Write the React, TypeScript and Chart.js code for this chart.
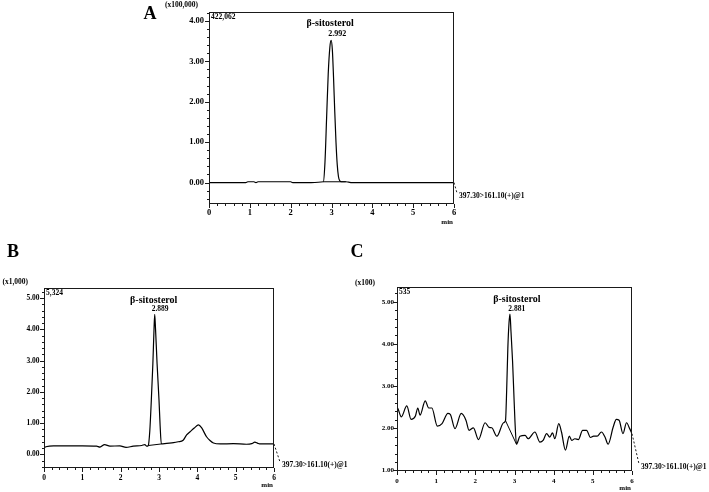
import React, { useEffect, useRef } from 'react';
import { Chart, registerables } from 'chart.js';

Chart.register(...registerables);

const FONT = "'Liberation Serif', 'Times New Roman', Times, serif";

// ---------- Panel A data (x100,000) ----------
const timeA = [0, 0.5, 0.9, 0.95, 1.1, 1.15, 1.2, 1.6, 2.0, 2.05, 2.5, 2.8, 2.84, 2.88, 2.92, 2.96, 2.99, 3.02, 3.05, 3.08, 3.11, 3.14, 3.17, 3.2, 3.24, 3.35, 3.42, 3.5, 4.5, 5.5, 6.0];
const signalA = [0, 0, 0, 0.02, 0.02, 0, 0.02, 0.02, 0.02, 0, 0, 0.02, 0.5, 1.6, 2.7, 3.35, 3.52, 3.3, 2.6, 1.75, 1.0, 0.45, 0.15, 0.05, 0.02, 0.02, 0.01, 0, 0, 0, 0];
const peakBaseTimeA = [2.8, 3.35];
const peakBaseSignalA = [0.02, 0.02];

// ---------- Panel B data (x1,000) ----------
const timeB = [0, 0.05, 0.25, 0.6, 1.0, 1.37, 1.46, 1.58, 1.72, 1.98, 2.14, 2.33, 2.55, 2.63, 2.68, 2.72, 2.76, 2.8, 2.84, 2.87, 2.888, 2.91, 2.95, 3.0, 3.03, 3.06, 3.2, 3.38, 3.5, 3.63, 3.72, 3.81, 3.92, 4.03, 4.11, 4.24, 4.33, 4.42, 4.6, 4.94, 5.28, 5.42, 5.5, 5.58, 5.65, 6.0];
const signalB = [0.21, 0.24, 0.27, 0.27, 0.27, 0.26, 0.23, 0.31, 0.26, 0.27, 0.22, 0.26, 0.28, 0.31, 0.26, 0.28, 0.75, 1.74, 2.9, 4.0, 4.48, 4.0, 2.9, 1.74, 0.9, 0.33, 0.35, 0.37, 0.4, 0.45, 0.62, 0.72, 0.84, 0.94, 0.85, 0.56, 0.44, 0.36, 0.33, 0.34, 0.32, 0.34, 0.39, 0.35, 0.33, 0.33];
const peakBaseTimeB = [2.72, 3.06];
const peakBaseSignalB = [0.28, 0.33];

// ---------- Panel C data (x100) ----------
const timeC = [0, 0.03, 0.11, 0.25, 0.36, 0.47, 0.53, 0.59, 0.72, 0.81, 0.89, 1.03, 1.15, 1.3, 1.36, 1.48, 1.64, 1.76, 1.84, 1.95, 2.08, 2.25, 2.35, 2.42, 2.55, 2.72, 2.77, 2.8, 2.83, 2.86, 2.885, 2.91, 2.95, 2.98, 3.01, 3.05, 3.14, 3.27, 3.35, 3.52, 3.65, 3.73, 3.82, 3.9, 3.97, 4.03, 4.13, 4.2, 4.3, 4.4, 4.46, 4.54, 4.63, 4.74, 4.84, 4.94, 5.02, 5.11, 5.22, 5.31, 5.39, 5.52, 5.6, 5.67, 5.77, 5.86, 5.94, 6.0];
const signalC = [2.5, 2.45, 2.27, 2.53, 2.21, 2.29, 2.48, 2.31, 2.65, 2.48, 2.48, 2.05, 2.11, 2.35, 2.33, 1.99, 2.35, 2.19, 1.95, 2.01, 1.73, 2.13, 2.02, 2.01, 1.81, 2.13, 2.18, 2.9, 3.9, 4.5, 4.71, 4.3, 3.6, 2.9, 2.2, 1.62, 1.81, 1.83, 1.75, 1.91, 1.67, 1.71, 1.87, 1.79, 1.89, 1.75, 2.11, 1.91, 1.48, 1.81, 1.71, 1.75, 1.73, 1.95, 1.95, 1.78, 1.81, 1.81, 1.91, 1.79, 1.62, 2.03, 2.21, 2.19, 1.87, 2.13, 1.99, 1.87];
const peakBaseTimeC = [2.77, 3.05];
const peakBaseSignalC = [2.18, 1.62];

// ---------- axes & labels ----------
const xMajorTicks = [0, 1, 2, 3, 4, 5, 6];
const yMajorTicksA = [0, 1, 2, 3, 4];
const yMajorTicksB = [0, 1, 2, 3, 4, 5];
const yMajorTicksC = [1, 2, 3, 4, 5];
const yMinValues = [-0.53, -0.44, 0.985];
const yMaxValues = [4.22062, 5.324, 5.35];
const panelLetters = ['A', 'B', 'C'];
const scaleFactorLabels = ['(x100,000)', '(x1,000)', '(x100)'];
const maxIntensityLabels = ['422,062', '5,324', '535'];
const retentionTimes = [2.992, 2.889, 2.881];
const compoundName = 'β-sitosterol';
const transitionLabel = '397.30>161.10(+)@1';
const timeUnit = 'min';

const series = [
  { time: timeA, signal: signalA, bt: peakBaseTimeA, bs: peakBaseSignalA, yMajor: yMajorTicksA },
  { time: timeB, signal: signalB, bt: peakBaseTimeB, bs: peakBaseSignalB, yMajor: yMajorTicksB },
  { time: timeC, signal: signalC, bt: peakBaseTimeC, bs: peakBaseSignalC, yMajor: yMajorTicksC },
];

// ---------- layout / style (positions only) ----------
const layouts = [
  { area: { l: 209, t: 12, r: 454, b: 204 }, tick: 8.5, xPad: 4, yPad: 5, letter: [150, 14], unit: [198, 5], nameDx: -1, nameDy: -16.5, rtDx: -3, rtDy: -6.5, rtSize: 8, mrm: [459, 196], minDy: 18 },
  { area: { l: 44, t: 288, r: 274, b: 468 }, tick: 7.5, xPad: 5.5, yPad: 4.5, letter: [13, 252], unit: [28, 282], nameDx: -1, nameDy: -14, rtDx: -3, rtDy: -5.5, rtSize: 7.5, mrm: [282, 465], minDy: 17 },
  { area: { l: 397, t: 287, r: 632, b: 471 }, tick: 7, xPad: 5.5, yPad: 3, letter: [357, 252], unit: [375, 283], nameDx: 7, nameDy: -15, rtDx: -1.5, rtDy: -5, rtSize: 7.5, mrm: [641, 467], minDy: 17 },
];

const W = 709;
const H = 492;
const Y_W = 30;
const X_H = 16;
const MINOR_STEP = 0.2;

function stepTicks(min: number, max: number) {
  const out: { value: number }[] = [];
  for (let k = Math.ceil(min / MINOR_STEP - 1e-9); k * MINOR_STEP <= max + 1e-9; k++) {
    out.push({ value: Math.round(k * MINOR_STEP * 1000) / 1000 });
  }
  return out;
}

const isMajor = (v: number) => Math.abs(v - Math.round(v)) < 1e-6;

function txt(ctx: CanvasRenderingContext2D, s: string, x: number, y: number, size: number, align: CanvasTextAlign = 'left', baseline: CanvasTextBaseline = 'middle') {
  ctx.font = `bold ${size}px ${FONT}`;
  ctx.textAlign = align;
  ctx.textBaseline = baseline;
  ctx.fillStyle = '#000';
  ctx.fillText(s, x, y);
}

function makeDecor(idx: number) {
  const L = layouts[idx];
  const S = series[idx];
  return {
    id: 'decor' + idx,
    afterDraw(chart: any) {
      const ctx: CanvasRenderingContext2D = chart.ctx;
      const { left, top, right, bottom } = chart.chartArea;
      const xs = chart.scales.x;
      const ys = chart.scales.y;
      ctx.save();
      // frame
      ctx.strokeStyle = '#1a1a1a';
      ctx.lineWidth = 1;
      ctx.strokeRect(Math.round(left) + 0.5, Math.round(top) + 0.5, Math.round(right - left) - 1, Math.round(bottom - top) - 1);
      // tick marks
      ctx.beginPath();
      ys.ticks.forEach((t: any) => {
        const y = Math.round(ys.getPixelForValue(t.value)) + 0.5;
        const len = isMajor(t.value) ? 4 : 2;
        ctx.moveTo(Math.round(left) - len, y);
        ctx.lineTo(Math.round(left), y);
      });
      xs.ticks.forEach((t: any) => {
        const x = Math.round(xs.getPixelForValue(t.value)) + 0.5;
        const len = isMajor(t.value) ? 4 : 2;
        ctx.moveTo(x, Math.round(bottom));
        ctx.lineTo(x, Math.round(bottom) + len);
      });
      ctx.stroke();
      // dashed continuation to transition label
      const lastT = S.time[S.time.length - 1];
      const lastV = S.signal[S.signal.length - 1];
      ctx.setLineDash([2, 2]);
      ctx.beginPath();
      ctx.moveTo(xs.getPixelForValue(lastT), ys.getPixelForValue(lastV));
      ctx.lineTo(L.mrm[0] - 2, L.mrm[1] - 3);
      ctx.stroke();
      ctx.setLineDash([]);
      // texts
      txt(ctx, panelLetters[idx], L.letter[0], L.letter[1], 18, 'center');
      txt(ctx, scaleFactorLabels[idx], L.unit[0], L.unit[1], 7.5, 'right');
      txt(ctx, maxIntensityLabels[idx], Math.round(left) + 2, Math.round(top) + 1.5, 7.5, 'left', 'top');
      txt(ctx, transitionLabel, L.mrm[0], L.mrm[1], 7.5, 'left');
      txt(ctx, timeUnit, Math.round(right) - 1, Math.round(bottom) + L.minDy, 7, 'right');
      let pk = 0;
      S.signal.forEach((v, i) => { if (v > S.signal[pk]) pk = i; });
      const px = xs.getPixelForValue(retentionTimes[idx]);
      const py = ys.getPixelForValue(S.signal[pk]);
      txt(ctx, compoundName, px + L.nameDx, py + L.nameDy, 10, 'center');
      txt(ctx, retentionTimes[idx].toFixed(3), px + L.rtDx, py + L.rtDy, L.rtSize, 'left');
      ctx.restore();
    },
  };
}

function buildConfig(idx: number): any {
  const L = layouts[idx];
  const S = series[idx];
  const font = { family: FONT, size: L.tick, weight: 'bold' as const };
  return {
    type: 'line',
    data: {
      datasets: [
        {
          data: S.time.map((t, i) => ({ x: t, y: S.signal[i] })),
          borderColor: '#000',
          borderWidth: 1.2,
          pointRadius: 0,
          cubicInterpolationMode: 'monotone',
          fill: false,
        },
        {
          data: S.bt.map((t, i) => ({ x: t, y: S.bs[i] })),
          borderColor: '#000',
          borderWidth: 1,
          pointRadius: 0,
          fill: false,
        },
      ],
    },
    options: {
      responsive: false,
      animation: false,
      devicePixelRatio: 1,
      events: [],
      layout: {
        padding: {
          left: L.area.l - Y_W,
          top: L.area.t,
          right: W - L.area.r,
          bottom: H - L.area.b - X_H,
        },
      },
      plugins: { legend: { display: false }, tooltip: { enabled: false }, title: { display: false } },
      scales: {
        x: {
          type: 'linear',
          min: 0,
          max: 6,
          bounds: 'data',
          grid: { display: false, drawTicks: false },
          border: { display: false },
          afterFit: (s: any) => { s.height = X_H; },
          afterBuildTicks: (s: any) => { s.ticks = stepTicks(0, 6); },
          ticks: {
            autoSkip: false,
            maxRotation: 0,
            minRotation: 0,
            padding: L.xPad,
            color: '#000',
            font,
            callback: (v: any) => (xMajorTicks.includes(Number(v)) ? String(v) : ''),
          },
        },
        y: {
          type: 'linear',
          min: yMinValues[idx],
          max: yMaxValues[idx],
          bounds: 'data',
          grid: { display: false, drawTicks: false },
          border: { display: false },
          afterFit: (s: any) => { s.width = Y_W; },
          afterBuildTicks: (s: any) => { s.ticks = stepTicks(yMinValues[idx], yMaxValues[idx]); },
          ticks: {
            autoSkip: false,
            padding: L.yPad,
            color: '#000',
            font,
            callback: (v: any) => (S.yMajor.includes(Number(v)) ? Number(v).toFixed(2) : ''),
          },
        },
      },
    },
    plugins: [makeDecor(idx)],
  };
}

function Panel({ idx }: { idx: number }) {
  const ref = useRef<HTMLCanvasElement>(null);
  useEffect(() => {
    const chart = new Chart(ref.current as HTMLCanvasElement, buildConfig(idx));
    return () => chart.destroy();
  }, [idx]);
  return (
    <canvas
      ref={ref}
      width={W}
      height={H}
      style={{ position: 'absolute', left: 0, top: 0, width: W, height: H }}
    />
  );
}

export default function App() {
  return (
    <div style={{ position: 'absolute', left: 0, top: 0, width: W, height: H, background: '#fff', overflow: 'hidden' }}>
      <Panel idx={0} />
      <Panel idx={1} />
      <Panel idx={2} />
    </div>
  );
}
